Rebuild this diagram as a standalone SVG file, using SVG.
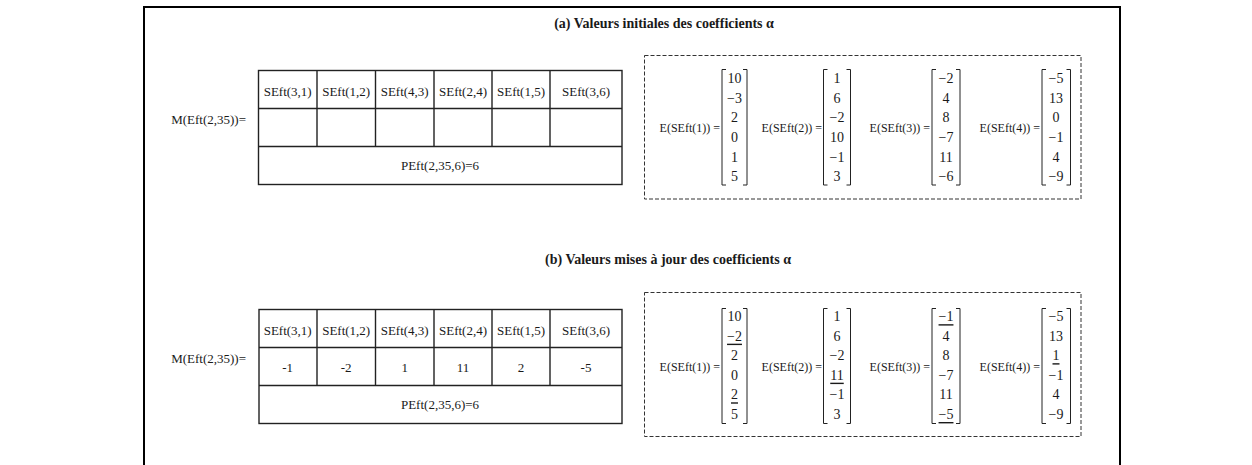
<svg xmlns="http://www.w3.org/2000/svg" width="1252" height="465" viewBox="0 0 1252 465">
<style>
text{font-family:"Liberation Serif","Times New Roman",serif;fill:#1a1a1a}
.t{font-size:14px;font-weight:bold;text-anchor:middle;dominant-baseline:central}
.c{font-size:13px;text-anchor:middle;dominant-baseline:central}
.l{font-size:13px;text-anchor:end;dominant-baseline:central}
.ml{font-size:12px;text-anchor:end;dominant-baseline:central}
.m{font-size:14px;text-anchor:middle;dominant-baseline:central}
.u{text-decoration:underline}
.grid{fill:none;stroke:#222;stroke-width:1.4}
.dash{fill:none;stroke:#333;stroke-width:1;stroke-dasharray:4 2}
.br{fill:none;stroke:#222;stroke-width:1}
</style>
<rect width="1252" height="465" fill="#fff"/>
<path d="M144,466 V7 H1120 V466" fill="none" stroke="#000" stroke-width="2"/>

<g id="title-a"><text class="t" x="664" y="23">(a) Valeurs initiales des coefficients α</text></g>
<g id="title-b"><text class="t" x="668" y="259">(b) Valeurs mises à jour des coefficients α</text></g>

<g id="table-a">
<text class="l" x="246" y="119">M(Eft(2,35))=</text>
<rect class="grid" x="258.5" y="70.5" width="363.5" height="114"/>
<path class="grid" d="M258.5,108.5 H622 M258.5,146.5 H622 M317,70.5 V146.5 M375.5,70.5 V146.5 M434,70.5 V146.5 M492,70.5 V146.5 M550,70.5 V146.5"/>
<text class="c" x="287.7" y="91">SEft(3,1)</text>
<text class="c" x="346.2" y="91">SEft(1,2)</text>
<text class="c" x="404.7" y="91">SEft(4,3)</text>
<text class="c" x="463" y="91">SEft(2,4)</text>
<text class="c" x="521" y="91">SEft(1,5)</text>
<text class="c" x="586" y="91">SEft(3,6)</text>
<text class="c" x="440" y="165.5">PEft(2,35,6)=6</text>
</g>

<g id="table-b">
<text class="l" x="246" y="358">M(Eft(2,35))=</text>
<rect class="grid" x="259" y="309.5" width="363" height="114"/>
<path class="grid" d="M259,347.5 H622 M259,385.5 H622 M317,309.5 V385.5 M375.5,309.5 V385.5 M434,309.5 V385.5 M492,309.5 V385.5 M550,309.5 V385.5"/>
<text class="c" x="287.7" y="330">SEft(3,1)</text>
<text class="c" x="346.2" y="330">SEft(1,2)</text>
<text class="c" x="404.7" y="330">SEft(4,3)</text>
<text class="c" x="463" y="330">SEft(2,4)</text>
<text class="c" x="521" y="330">SEft(1,5)</text>
<text class="c" x="586" y="330">SEft(3,6)</text>
<text class="c" x="287.7" y="367.5">-1</text>
<text class="c" x="346.2" y="367.5">-2</text>
<text class="c" x="404.7" y="367.5">1</text>
<text class="c" x="463" y="367.5">11</text>
<text class="c" x="521" y="367.5">2</text>
<text class="c" x="586" y="367.5">-5</text>
<text class="c" x="440" y="404">PEft(2,35,6)=6</text>
</g>

<g id="vectors-a">
<rect class="dash" x="644.5" y="55.5" width="436.5" height="143.5"/>
<text class="ml" x="720" y="128">E(SEft(1)) =</text>
<path class="br" d="M726,69.5 H722 V185 H726 M743,69.5 H747 V185 H743"/>
<text class="m" x="734.5" y="78.3">10</text>
<text class="m" x="734.5" y="98">−3</text>
<text class="m" x="734.5" y="117.7">2</text>
<text class="m" x="734.5" y="137.4">0</text>
<text class="m" x="734.5" y="157">1</text>
<text class="m" x="734.5" y="176.8">5</text>

<text class="ml" x="822" y="128">E(SEft(2)) =</text>
<path class="br" d="M827.5,69.5 H823.5 V185 H827.5 M846.5,69.5 H850.5 V185 H846.5"/>
<text class="m" x="837" y="78.3">1</text>
<text class="m" x="837" y="98">6</text>
<text class="m" x="837" y="117.7">−2</text>
<text class="m" x="837" y="137.4">10</text>
<text class="m" x="837" y="157">−1</text>
<text class="m" x="837" y="176.8">3</text>

<text class="ml" x="930" y="128">E(SEft(3)) =</text>
<path class="br" d="M936,69.5 H932 V185 H936 M956,69.5 H960 V185 H956"/>
<text class="m" x="946" y="78.3">−2</text>
<text class="m" x="946" y="98">4</text>
<text class="m" x="946" y="117.7">8</text>
<text class="m" x="946" y="137.4">−7</text>
<text class="m" x="946" y="157">11</text>
<text class="m" x="946" y="176.8">−6</text>

<text class="ml" x="1040" y="128">E(SEft(4)) =</text>
<path class="br" d="M1046,69.5 H1042 V185 H1046 M1066.5,69.5 H1070.5 V185 H1066.5"/>
<text class="m" x="1056" y="78.3">−5</text>
<text class="m" x="1056" y="98">13</text>
<text class="m" x="1056" y="117.7">0</text>
<text class="m" x="1056" y="137.4">−1</text>
<text class="m" x="1056" y="157">4</text>
<text class="m" x="1056" y="176.8">−9</text>
</g>

<g id="vectors-b">
<rect class="dash" x="644.5" y="292.5" width="436.5" height="144"/>
<text class="ml" x="720" y="367">E(SEft(1)) =</text>
<path class="br" d="M726,308.5 H722 V423.5 H726 M743,308.5 H747 V423.5 H743"/>
<text class="m" x="734.5" y="316.7">10</text>
<text class="m u" x="734.5" y="336.2">−2</text>
<text class="m" x="734.5" y="355.7">2</text>
<text class="m" x="734.5" y="375.2">0</text>
<text class="m u" x="734.5" y="394.8">2</text>
<text class="m" x="734.5" y="414.5">5</text>

<text class="ml" x="822" y="367">E(SEft(2)) =</text>
<path class="br" d="M827.5,308.5 H823.5 V423.5 H827.5 M846.5,308.5 H850.5 V423.5 H846.5"/>
<text class="m" x="837" y="316.7">1</text>
<text class="m" x="837" y="336.2">6</text>
<text class="m" x="837" y="355.7">−2</text>
<text class="m u" x="837" y="375.2">11</text>
<text class="m" x="837" y="394.8">−1</text>
<text class="m" x="837" y="414.5">3</text>

<text class="ml" x="930" y="367">E(SEft(3)) =</text>
<path class="br" d="M936,308.5 H932 V423.5 H936 M956,308.5 H960 V423.5 H956"/>
<text class="m u" x="946" y="316.7">−1</text>
<text class="m" x="946" y="336.2">4</text>
<text class="m" x="946" y="355.7">8</text>
<text class="m" x="946" y="375.2">−7</text>
<text class="m" x="946" y="394.8">11</text>
<text class="m u" x="946" y="414.5">−5</text>

<text class="ml" x="1040" y="367">E(SEft(4)) =</text>
<path class="br" d="M1046,308.5 H1042 V423.5 H1046 M1066.5,308.5 H1070.5 V423.5 H1066.5"/>
<text class="m" x="1056" y="316.7">−5</text>
<text class="m" x="1056" y="336.2">13</text>
<text class="m u" x="1056" y="355.7">1</text>
<text class="m" x="1056" y="375.2">−1</text>
<text class="m" x="1056" y="394.8">4</text>
<text class="m" x="1056" y="414.5">−9</text>
</g>
</svg>
